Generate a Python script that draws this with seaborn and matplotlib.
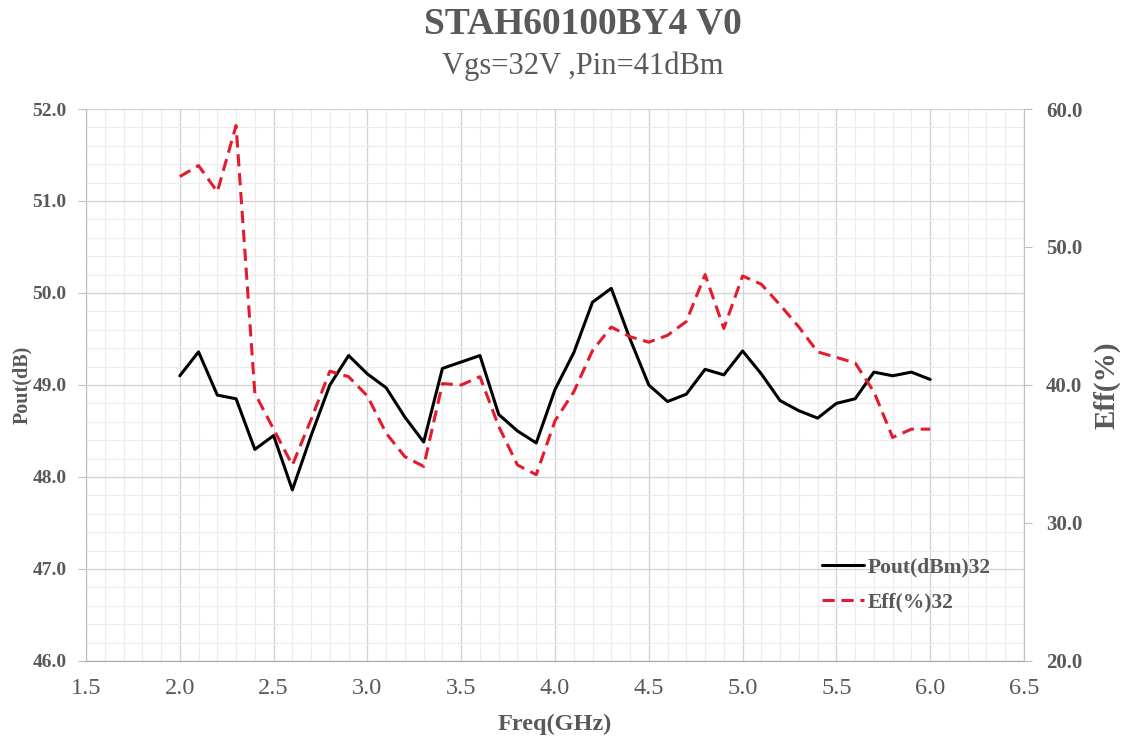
import numpy as np
import pandas as pd
import matplotlib
matplotlib.use("Agg")
import matplotlib.pyplot as plt
import seaborn as sns
from matplotlib.ticker import MultipleLocator, FormatStrFormatter

# Frequency sweep (GHz)
freq = [2.0, 2.1, 2.2, 2.3, 2.4, 2.5, 2.6, 2.7, 2.8, 2.9,
        3.0, 3.1, 3.2, 3.3, 3.4, 3.5, 3.6, 3.7, 3.8, 3.9,
        4.0, 4.1, 4.2, 4.3, 4.4, 4.5, 4.6, 4.7, 4.8, 4.9,
        5.0, 5.1, 5.2, 5.3, 5.4, 5.5, 5.6, 5.7, 5.8, 5.9, 6.0]

# Output power (dBm), left axis
pout = [49.10, 49.36, 48.89, 48.85, 48.30, 48.45, 47.86, 48.45, 49.00, 49.32,
        49.12, 48.97, 48.65, 48.38, 49.18, 49.25, 49.32, 48.68, 48.50, 48.37,
        48.95, 49.35, 49.90, 50.05, 49.50, 49.00, 48.82, 48.90, 49.17, 49.11,
        49.37, 49.12, 48.83, 48.72, 48.64, 48.80, 48.85, 49.14, 49.10, 49.14, 49.06]

# Drain efficiency (%), right axis
eff = [55.1, 55.9, 54.0, 58.8, 39.4, 36.8, 34.2, 37.5, 41.0, 40.6,
       39.2, 36.5, 34.8, 34.1, 40.1, 40.0, 40.6, 37.0, 34.2, 33.5,
       37.4, 39.5, 42.5, 44.2, 43.5, 43.1, 43.6, 44.6, 48.0, 44.1,
       47.9, 47.3, 45.8, 44.2, 42.4, 42.0, 41.6, 39.5, 36.2, 36.8, 36.8]

title = "STAH60100BY4 V0"
subtitle = "Vgs=32V ,Pin=41dBm"

df = pd.DataFrame({"freq": freq, "pout": pout, "eff": eff})

sns.set_style("white")
plt.rcParams["font.family"] = ["Liberation Serif", "DejaVu Serif"]
txt = "#595959"

fig = plt.figure(figsize=(11.27, 7.40), dpi=100)
ax = fig.add_axes([0.0763, 0.1068, 0.8323, 0.7459])
ax2 = ax.twinx()

sns.lineplot(data=df, x="freq", y="pout", ax=ax, color="black",
             linewidth=2.2, label="Pout(dBm)32", legend=False)
sns.lineplot(data=df, x="freq", y="eff", ax=ax2, color="#e31b2e",
             linewidth=2.2, linestyle=(0, (4, 2.2)), label="Eff(%)32", legend=False)

ax.set_xlim(1.5, 6.5)
ax.set_ylim(46, 52)
ax2.set_ylim(20, 60)

ax.xaxis.set_major_locator(MultipleLocator(0.5))
ax.xaxis.set_minor_locator(MultipleLocator(0.1))
ax.yaxis.set_major_locator(MultipleLocator(1.0))
ax.yaxis.set_minor_locator(MultipleLocator(0.2))
ax2.yaxis.set_major_locator(MultipleLocator(10))
ax.xaxis.set_major_formatter(FormatStrFormatter("%.1f"))
ax.yaxis.set_major_formatter(FormatStrFormatter("%.1f"))
ax2.yaxis.set_major_formatter(FormatStrFormatter("%.1f"))

ax.grid(which="major", color="#d4d4d4", linewidth=1.0)
ax.grid(which="minor", color="#ececec", linewidth=0.8)
ax.set_axisbelow(True)

for s in ["top", "right"]:
    ax.spines[s].set_visible(False)
ax.spines["left"].set_color("#bfbfbf")
ax.spines["bottom"].set_color("#a6a6a6")
for s in ["top", "left", "bottom"]:
    ax2.spines[s].set_visible(False)
ax2.spines["right"].set_color("#bfbfbf")

ax.tick_params(axis="x", which="major", direction="out", length=6, color="#a6a6a6",
               labelsize=17.5, labelcolor=txt, pad=6)
ax.tick_params(axis="x", which="minor", direction="in", length=6, color="#a6a6a6")
ax.tick_params(axis="y", which="major", direction="out", length=6, color="#bfbfbf",
               labelsize=14, labelcolor=txt, pad=8)
ax.tick_params(axis="y", which="minor", length=0)
ax2.tick_params(axis="y", which="major", direction="out", length=6, color="#bfbfbf",
                labelsize=15, labelcolor=txt, pad=10)
for lab in ax.get_yticklabels() + ax2.get_yticklabels():
    lab.set_fontweight("bold")

ax.set_xlabel("Freq(GHz)", fontsize=17.5, fontweight="bold", color=txt, labelpad=11)
ax.set_ylabel("Pout(dB)", fontsize=14.5, fontweight="bold", color=txt, labelpad=0)
ax2.set_ylabel("Eff(%)", fontsize=21, fontweight="bold", color=txt, labelpad=8)

fig.text(0.517, 0.968, title, ha="center", va="center", fontsize=27,
         fontweight="bold", color=txt)
fig.text(0.517, 0.911, subtitle, ha="center", va="center", fontsize=22, color=txt)

handles = ax.get_lines()[:1] + ax2.get_lines()[:1]
leg = ax2.legend(handles, [h.get_label() for h in handles],
                 loc="upper left", bbox_to_anchor=(0.764, 0.222),
                 frameon=False, fontsize=15.5, handlelength=1.95,
                 handletextpad=0.15, labelspacing=0.68)
for t in leg.get_texts():
    t.set_color(txt)
    t.set_fontweight("bold")

fig.savefig("out.png", dpi=100)
